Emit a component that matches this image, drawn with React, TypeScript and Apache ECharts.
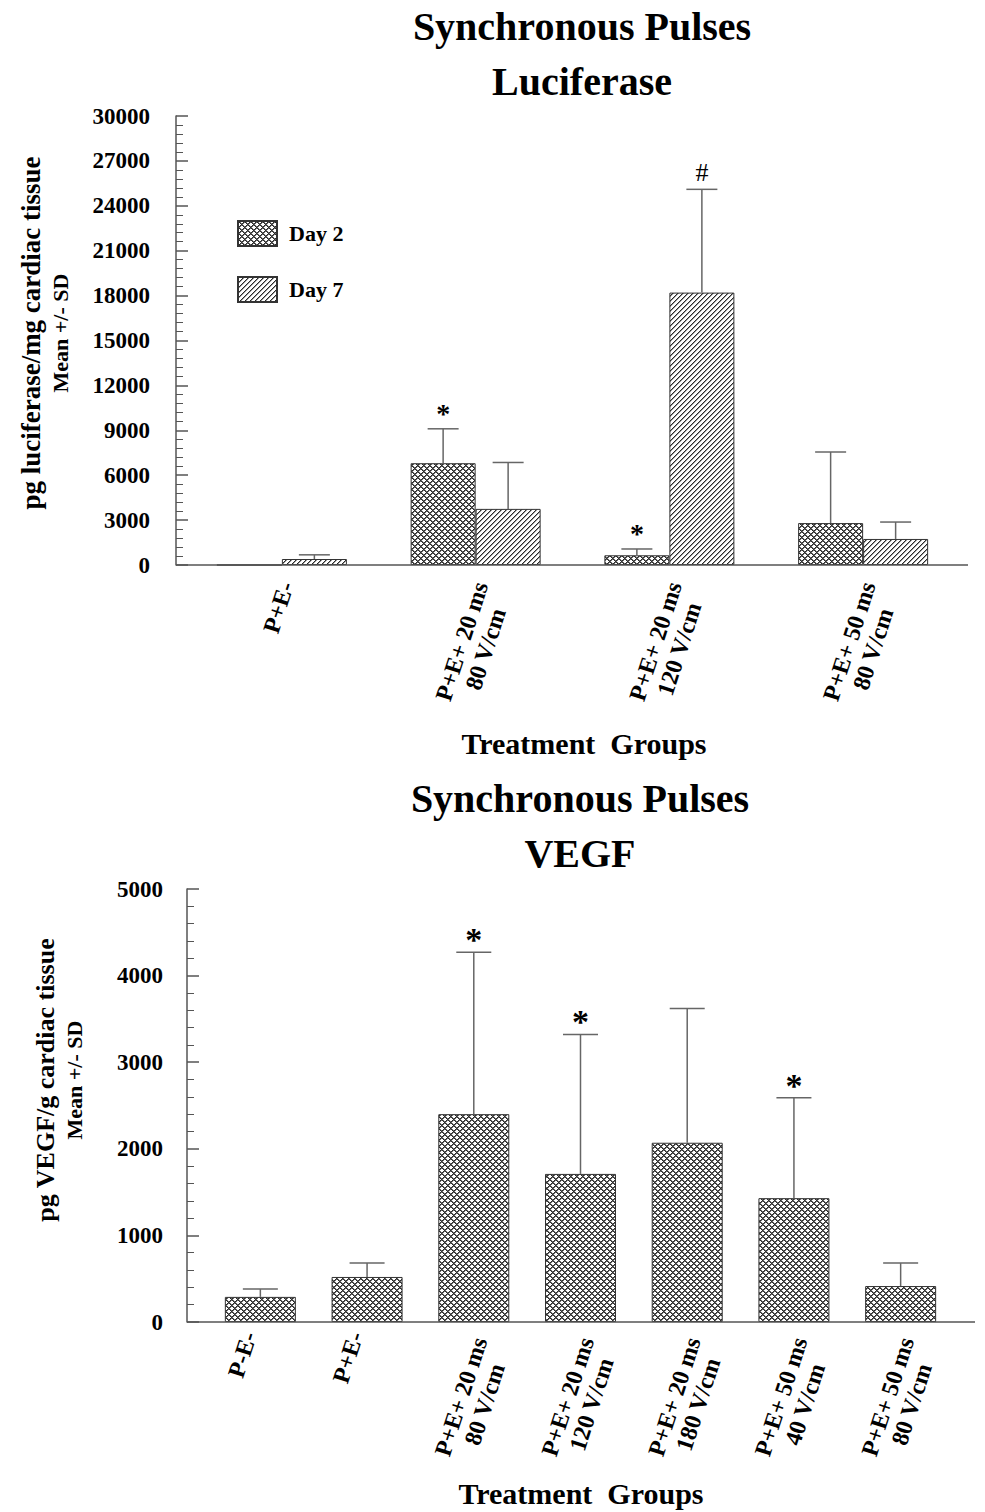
import React, { useEffect, useRef } from 'react';
import * as echarts from 'echarts';

const FF = "'Liberation Serif', 'Times New Roman', serif";

// ---- Luciferase (top chart) ----
const LUC_CATEGORIES = ['P+E-', 'P+E+ 20 ms\n80 V/cm', 'P+E+ 20 ms\n120 V/cm', 'P+E+ 50 ms\n80 V/cm'];
const LUC_DAY2 = [0, 6800, 650, 2800];
const LUC_DAY2_UPPER: (number | null)[] = [null, 9100, 1070, 7550];
const LUC_DAY2_SIG = ['', '*', '*', ''];
const LUC_DAY7 = [400, 3750, 18200, 1740];
const LUC_DAY7_UPPER: (number | null)[] = [680, 6850, 25100, 2870];
const LUC_DAY7_SIG = ['', '', '#', ''];
const LUC_MAX = 30000;
const LUC_STEP = 3000;

// ---- VEGF (bottom chart) ----
const VEGF_CATEGORIES = [
  'P-E-',
  'P+E-',
  'P+E+ 20 ms\n80 V/cm',
  'P+E+ 20 ms\n120 V/cm',
  'P+E+ 20 ms\n180 V/cm',
  'P+E+ 50 ms\n40 V/cm',
  'P+E+ 50 ms\n80 V/cm',
];
const VEGF_MEAN = [290, 520, 2400, 1710, 2070, 1430, 415];
const VEGF_UPPER = [380, 680, 4270, 3320, 3620, 2590, 680];
const VEGF_SIG = ['', '', '*', '*', '', '*', ''];
const VEGF_MAX = 5000;
const VEGF_STEP = 1000;

function makeCrossPattern() {
  const n = 6;
  const c = document.createElement('canvas');
  c.width = n;
  c.height = n;
  const ctx = c.getContext('2d')!;
  ctx.fillStyle = '#ffffff';
  ctx.fillRect(0, 0, n, n);
  for (let x = 0; x < n; x++) {
    for (let y = 0; y < n; y++) {
      const a = (x + y) % n;
      const b = (x - y + n) % n;
      if (a === 0 || b === 0) {
        ctx.fillStyle = '#2a2a2a';
        ctx.fillRect(x, y, 1, 1);
      } else if (a === 1 || b === 1) {
        ctx.fillStyle = '#6a6a6a';
        ctx.fillRect(x, y, 1, 1);
      }
    }
  }
  return c;
}

function makeDiagPattern() {
  const n = 5;
  const c = document.createElement('canvas');
  c.width = n;
  c.height = n;
  const ctx = c.getContext('2d')!;
  ctx.fillStyle = '#ffffff';
  ctx.fillRect(0, 0, n, n);
  for (let x = 0; x < n; x++) {
    for (let y = 0; y < n; y++) {
      const a = (x + y) % n;
      if (a === 0) {
        ctx.fillStyle = '#2a2a2a';
        ctx.fillRect(x, y, 1, 1);
      } else if (a === 1) {
        ctx.fillStyle = '#9a9a9a';
        ctx.fillRect(x, y, 1, 1);
      }
    }
  }
  return c;
}

function errorRender(offset: number, capW: number, starSize: number, starLift: number, sigs: string[]) {
  return (params: any, api: any) => {
    const i = api.value(0);
    const m = api.value(1);
    const u = api.value(2);
    const a = api.coord([i, m]);
    const b = api.coord([i, u]);
    const x = a[0] + offset;
    const lineStyle = { stroke: '#666', lineWidth: 1.5 };
    const children: any[] = [
      { type: 'line', shape: { x1: x, y1: a[1], x2: x, y2: b[1] }, style: lineStyle },
      { type: 'line', shape: { x1: x - capW / 2, y1: b[1], x2: x + capW / 2, y2: b[1] }, style: lineStyle },
    ];
    const s = sigs[i];
    if (s) {
      const isStar = s === '*';
      children.push({
        type: 'text',
        x,
        y: b[1] - (isStar ? starLift : 17),
        style: {
          text: s,
          fill: '#000',
          fontSize: isStar ? starSize : 26,
          fontWeight: isStar ? 'bold' : 'normal',
          fontFamily: FF,
          align: 'center',
          verticalAlign: 'middle',
        },
      });
    }
    return { type: 'group', children };
  };
}

function errData(means: number[], uppers: (number | null)[]) {
  const out: number[][] = [];
  means.forEach((m, i) => {
    const u = uppers[i];
    if (u != null) out.push([i, m, u]);
  });
  return out;
}

// label formatter: lines centred on each other, plus a blank spacer line
// that nudges the block sideways the way the original figure sits
function makeLabelFormatter(single: [string, number], double: [string, number]) {
  return (v: string) => {
    const lines = v.split('\n').map((s) => `{a|${s}}`);
    const [where, h] = lines.length === 1 ? single : double;
    const spacer = `{s${h}| }`;
    if (where === 'top') return [spacer, ...lines].join('\n');
    return [...lines, spacer].join('\n');
  };
}

function makeRich(spacers: number[]) {
  const rich: any = {
    a: { fontSize: 24, fontWeight: 'bold', fontFamily: FF, color: '#000', lineHeight: 25, align: 'center' },
  };
  spacers.forEach((h) => {
    rich['s' + h] = { fontSize: 2, lineHeight: h, align: 'center' };
  });
  return rich;
}

const axisGray = '#555';

function buildOption() {
  const cross = { image: makeCrossPattern(), repeat: 'repeat' };
  const diag = { image: makeDiagPattern(), repeat: 'repeat' };

  const yAxisCommon = {
    type: 'value',
    axisLine: { show: true, lineStyle: { color: axisGray, width: 1.5 } },
    axisTick: { show: true, inside: true, length: 12, lineStyle: { color: axisGray, width: 1.5 } },
    minorTick: { show: true, splitNumber: 5, length: 7, lineStyle: { color: axisGray, width: 1 } },
    splitLine: { show: false },
  };
  const yLabel = {
    fontSize: 23,
    fontWeight: 'bold',
    fontFamily: FF,
    color: '#000',
    formatter: (v: number) => String(v),
  };

  return {
    animation: false,
    backgroundColor: '#fff',
    grid: [
      { left: 185, top: 116, width: 775, height: 449 },
      { left: 207, top: 889, width: 747, height: 433 },
    ],
    legend: {
      data: ['Day 2', 'Day 7'],
      orient: 'vertical',
      left: 232,
      top: 215,
      itemWidth: 39,
      itemHeight: 25,
      itemGap: 29,
      icon: 'rect',
      selectedMode: false,
      textStyle: { fontSize: 22, fontWeight: 'bold', fontFamily: FF, color: '#000', padding: [0, 0, 0, 7] },
    },
    xAxis: [
      {
        gridIndex: 0,
        type: 'category',
        data: LUC_CATEGORIES,
        axisLine: { show: false },
        axisTick: { show: false },
        axisLabel: {
          interval: 0,
          rotate: 72,
          margin: 16,
          formatter: makeLabelFormatter(['top', 10], ['top', 36]),
          rich: makeRich([10, 36]),
        },
      },
      {
        gridIndex: 1,
        type: 'category',
        data: VEGF_CATEGORIES,
        axisLine: { show: false },
        axisTick: { show: false },
        axisLabel: {
          interval: 0,
          rotate: 72,
          margin: 14,
          formatter: makeLabelFormatter(['bottom', 23], ['top', 38]),
          rich: makeRich([23, 38]),
        },
      },
    ],
    yAxis: [
      { ...yAxisCommon, gridIndex: 0, min: 0, max: LUC_MAX, interval: LUC_STEP, offset: 9, axisLabel: { ...yLabel, margin: 26 } },
      { ...yAxisCommon, gridIndex: 1, min: 0, max: VEGF_MAX, interval: VEGF_STEP, offset: 20, axisLabel: { ...yLabel, margin: 24 } },
    ],
    series: [
      {
        name: 'Day 2',
        type: 'bar',
        xAxisIndex: 0,
        yAxisIndex: 0,
        data: LUC_DAY2,
        barWidth: 65,
        barGap: '0%',
        itemStyle: { color: cross, borderColor: '#333', borderWidth: 1 },
      },
      {
        name: 'Day 7',
        type: 'bar',
        xAxisIndex: 0,
        yAxisIndex: 0,
        data: LUC_DAY7,
        barWidth: 65,
        barGap: '0%',
        itemStyle: { color: diag, borderColor: '#333', borderWidth: 1 },
      },
      {
        type: 'custom',
        xAxisIndex: 0,
        yAxisIndex: 0,
        silent: true,
        z: 5,
        encode: { x: 0, y: [1, 2] },
        data: errData(LUC_DAY2, LUC_DAY2_UPPER),
        renderItem: errorRender(-32.5, 31, 28, 15, LUC_DAY2_SIG),
      },
      {
        type: 'custom',
        xAxisIndex: 0,
        yAxisIndex: 0,
        silent: true,
        z: 5,
        encode: { x: 0, y: [1, 2] },
        data: errData(LUC_DAY7, LUC_DAY7_UPPER),
        renderItem: errorRender(32.5, 31, 28, 15, LUC_DAY7_SIG),
      },
      {
        name: 'VEGF',
        type: 'bar',
        xAxisIndex: 1,
        yAxisIndex: 1,
        data: VEGF_MEAN,
        barWidth: 71,
        itemStyle: { color: cross, borderColor: '#333', borderWidth: 1 },
      },
      {
        type: 'custom',
        xAxisIndex: 1,
        yAxisIndex: 1,
        silent: true,
        z: 5,
        encode: { x: 0, y: [1, 2] },
        data: errData(VEGF_MEAN, VEGF_UPPER),
        renderItem: errorRender(0, 35, 34, 12.5, VEGF_SIG),
      },
    ],
    graphic: [
      // baselines
      { type: 'line', shape: { x1: 176, y1: 565, x2: 968, y2: 565 }, style: { stroke: axisGray, lineWidth: 1.5 }, z: 10 },
      { type: 'line', shape: { x1: 187, y1: 1322, x2: 975, y2: 1322 }, style: { stroke: axisGray, lineWidth: 1.5 }, z: 10 },
      // titles
      {
        type: 'text',
        x: 582,
        y: -1,
        style: {
          text: 'Synchronous Pulses\nLuciferase',
          fill: '#000',
          fontSize: 40,
          fontWeight: 'bold',
          fontFamily: FF,
          lineHeight: 55,
          align: 'center',
          verticalAlign: 'top',
        },
      },
      {
        type: 'text',
        x: 580,
        y: 771,
        style: {
          text: 'Synchronous Pulses\nVEGF',
          fill: '#000',
          fontSize: 40,
          fontWeight: 'bold',
          fontFamily: FF,
          lineHeight: 55,
          align: 'center',
          verticalAlign: 'top',
        },
      },
      // x axis names
      {
        type: 'text',
        x: 584,
        y: 728,
        style: {
          text: 'Treatment  Groups',
          fill: '#000',
          fontSize: 30,
          fontWeight: 'bold',
          fontFamily: FF,
          lineHeight: 30,
          align: 'center',
          verticalAlign: 'top',
        },
      },
      {
        type: 'text',
        x: 581,
        y: 1478,
        style: {
          text: 'Treatment  Groups',
          fill: '#000',
          fontSize: 30,
          fontWeight: 'bold',
          fontFamily: FF,
          lineHeight: 30,
          align: 'center',
          verticalAlign: 'top',
        },
      },
      // y axis names
      {
        type: 'text',
        x: 45,
        y: 333,
        rotation: Math.PI / 2,
        style: {
          text: '{a|pg luciferase/mg cardiac tissue}\n{b|Mean +/- SD}',
          align: 'center',
          verticalAlign: 'middle',
          rich: {
            a: { fontSize: 27, fontWeight: 'bold', fontFamily: FF, fill: '#000', lineHeight: 30 },
            b: { fontSize: 22, fontWeight: 'bold', fontFamily: FF, fill: '#000', lineHeight: 28 },
          },
        },
      },
      {
        type: 'text',
        x: 59,
        y: 1080,
        rotation: Math.PI / 2,
        style: {
          text: '{a|pg VEGF/g cardiac tissue}\n{b|Mean +/- SD}',
          align: 'center',
          verticalAlign: 'middle',
          rich: {
            a: { fontSize: 26, fontWeight: 'bold', fontFamily: FF, fill: '#000', lineHeight: 30 },
            b: { fontSize: 22, fontWeight: 'bold', fontFamily: FF, fill: '#000', lineHeight: 28 },
          },
        },
      },
    ],
  };
}

export default function App() {
  const ref = useRef<HTMLDivElement>(null);
  useEffect(() => {
    const chart = echarts.init(ref.current!, null, { renderer: 'svg' });
    chart.setOption(buildOption() as any);
    return () => chart.dispose();
  }, []);
  return (
    <div
      ref={ref}
      style={{ position: 'absolute', left: 0, top: 0, width: 985, height: 1512, background: '#fff' }}
    />
  );
}
